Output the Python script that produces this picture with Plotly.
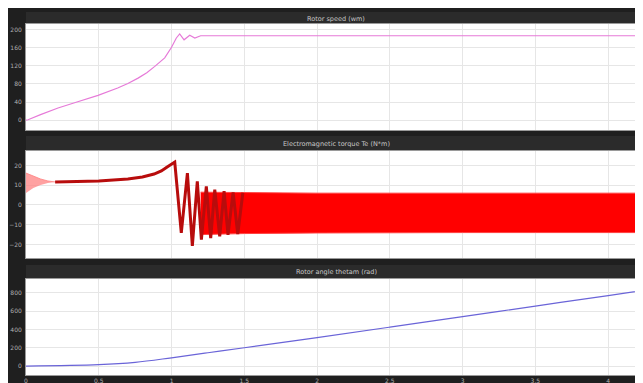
import plotly.graph_objects as go

# ---- data ----
x_ticks = [0, 0.5, 1, 1.5, 2, 2.5, 3, 3.5, 4]
x_tick_labels = ["0", "0.5", "1", "1.5", "2", "2.5", "3", "3.5", "4"]
t_end = 4.26

# Rotor speed
speed_t = [0, 0.014, 0.1, 0.22, 0.35, 0.495, 0.63, 0.7, 0.77, 0.83, 0.885, 0.953, 0.999, 1.033,
           1.056, 1.086, 1.125, 1.16, 1.2, 4.26]
speed_v = [0, 0.7, 12, 26.7, 40, 54.8, 71, 81, 93, 105, 119, 138, 161, 182,
           191, 178, 188, 182, 187, 187]
speed_ticks = [0, 40, 80, 120, 160, 200]

# Electromagnetic torque: start-up wedge envelopes
wedge_t = [0, 0.05, 0.1, 0.15, 0.2]
wedge_up = [16.2, 14.7, 13.2, 12.2, 11.7]
wedge_lo = [6.1, 8.6, 10.2, 11.2, 11.7]
# torque transient line
torque_t = [0.2, 0.5, 0.7, 0.8, 0.88, 0.93, 0.97, 1.0, 1.022, 1.067, 1.109, 1.143, 1.177, 1.205,
            1.239, 1.269, 1.297, 1.331, 1.361, 1.388, 1.423, 1.455, 1.49]
torque_v = [11.7, 12.2, 13.2, 14.2, 15.7, 17.3, 19.3, 20.8, 21.8, -14.2, 16.2, -20.7, 12, -17.6,
            9.5, -16.8, 7.8, -15.9, 7, -15.1, 6.4, -14.8, 6.2]
# steady oscillation band envelopes
band_t = [1.2, 1.5, 2.0, 2.5, 3.0, 3.5, 4.0, 4.26]
band_up = [6.5, 6.2, 6.0, 6.0, 6.0, 6.0, 6.0, 6.0]
band_lo = [-15.0, -14.5, -14.2, -14.0, -14.0, -14.0, -14.0, -14.0]
torque_ticks = [-20, -10, 0, 10, 20]

# Rotor angle
angle_t = [0, 0.5, 0.75, 1.0, 1.25, 1.5, 2.0, 2.5, 3.0, 3.5, 4.0, 4.26]
angle_v = [0, 15, 40, 90, 145, 200, 310, 425, 540, 655, 770, 832]
angle_ticks = [0, 200, 400, 600, 800]

titles = ["Rotor speed (wm)", "Electromagnetic torque Te (N*m)", "Rotor angle thetam (rad)"]

# ---- figure ----
W, H = 643, 383
ml, mr, mt, mb = 18, 5, 16, 16
ph = H - mt - mb


def dom(top_px, bot_px):
    return [(H - mb - bot_px) / ph, (H - mb - top_px) / ph]


d1 = dom(16, 122)
d2 = dom(143, 250)
d3 = dom(271, 367)

fig = go.Figure()

fig.add_trace(go.Scatter(x=speed_t, y=speed_v, mode="lines",
                         line=dict(color="#e67ad8", width=1.2), xaxis="x", yaxis="y"))

fig.add_trace(go.Scatter(x=wedge_t, y=wedge_lo, mode="lines", line=dict(width=0, color="#ff9090"),
                         xaxis="x2", yaxis="y2"))
fig.add_trace(go.Scatter(x=wedge_t, y=wedge_up, mode="lines", line=dict(width=0.8, color="#ff8080"),
                         fill="tonexty", fillcolor="rgba(255,130,130,0.75)", xaxis="x2", yaxis="y2"))
fig.add_trace(go.Scatter(x=band_t, y=band_lo, mode="lines", line=dict(width=1, color="#ff4040"),
                         xaxis="x2", yaxis="y2"))
fig.add_trace(go.Scatter(x=band_t, y=band_up, mode="lines", line=dict(width=1, color="#ff4040"),
                         fill="tonexty", fillcolor="#ff0000", xaxis="x2", yaxis="y2"))
fig.add_trace(go.Scatter(x=torque_t, y=torque_v, mode="lines",
                         line=dict(color="#b80c0c", width=3), xaxis="x2", yaxis="y2"))

fig.add_trace(go.Scatter(x=angle_t, y=angle_v, mode="lines", line_shape="spline",
                         line=dict(color="#6a64d8", width=1.2), xaxis="x3", yaxis="y3"))

grid = "#e6e6e6"
tickfont = dict(family="DejaVu Sans", size=6, color="#b0b0b0")
xcommon = dict(range=[0, t_end], tickvals=x_ticks, ticktext=x_tick_labels, showgrid=True,
               gridcolor=grid, gridwidth=1, zeroline=False, tickfont=tickfont, ticks="",
               showline=True, linecolor="#9a9a9a", mirror=True, automargin=False)
ycommon = dict(showgrid=True, gridcolor=grid, gridwidth=1, zeroline=False, tickfont=tickfont,
               ticks="", showline=True, linecolor="#9a9a9a", mirror=True, automargin=False,
               ticklabelstandoff=2)

fig.update_layout(
    width=W, height=H,
    margin=dict(l=ml, r=mr, t=mt, b=mb),
    paper_bgcolor="#1f1f1f", plot_bgcolor="#ffffff",
    showlegend=False,
    xaxis=dict(xcommon, anchor="y", showticklabels=False),
    xaxis2=dict(xcommon, anchor="y2", showticklabels=False),
    xaxis3=dict(xcommon, anchor="y3", showticklabels=True),
    yaxis=dict(ycommon, domain=d1, range=[-22, 213], tickvals=speed_ticks),
    yaxis2=dict(ycommon, domain=d2, range=[-26.9, 27.4], tickvals=torque_ticks),
    yaxis3=dict(ycommon, domain=d3, range=[-98, 951], tickvals=angle_ticks),
)

# title bars
bars = [(4, 16, 11, titles[0]), (128, 143, 136, titles[1]), (257, 271, 264, titles[2])]
for top, bot, ty, txt in bars:
    fig.add_shape(type="rect", xref="paper", yref="paper", x0=0, x1=1,
                  y0=(H - mb - bot) / ph, y1=(H - mb - top) / ph,
                  fillcolor="#2b2b2b", line=dict(width=0), layer="below")
    fig.add_annotation(xref="paper", yref="paper", x=0.5, y=(H - mb - ty) / ph, text=txt,
                       showarrow=False, font=dict(family="DejaVu Sans", size=6.5, color="#c8c8c8"),
                       xanchor="center", yanchor="middle")

fig.write_html("out.html")
